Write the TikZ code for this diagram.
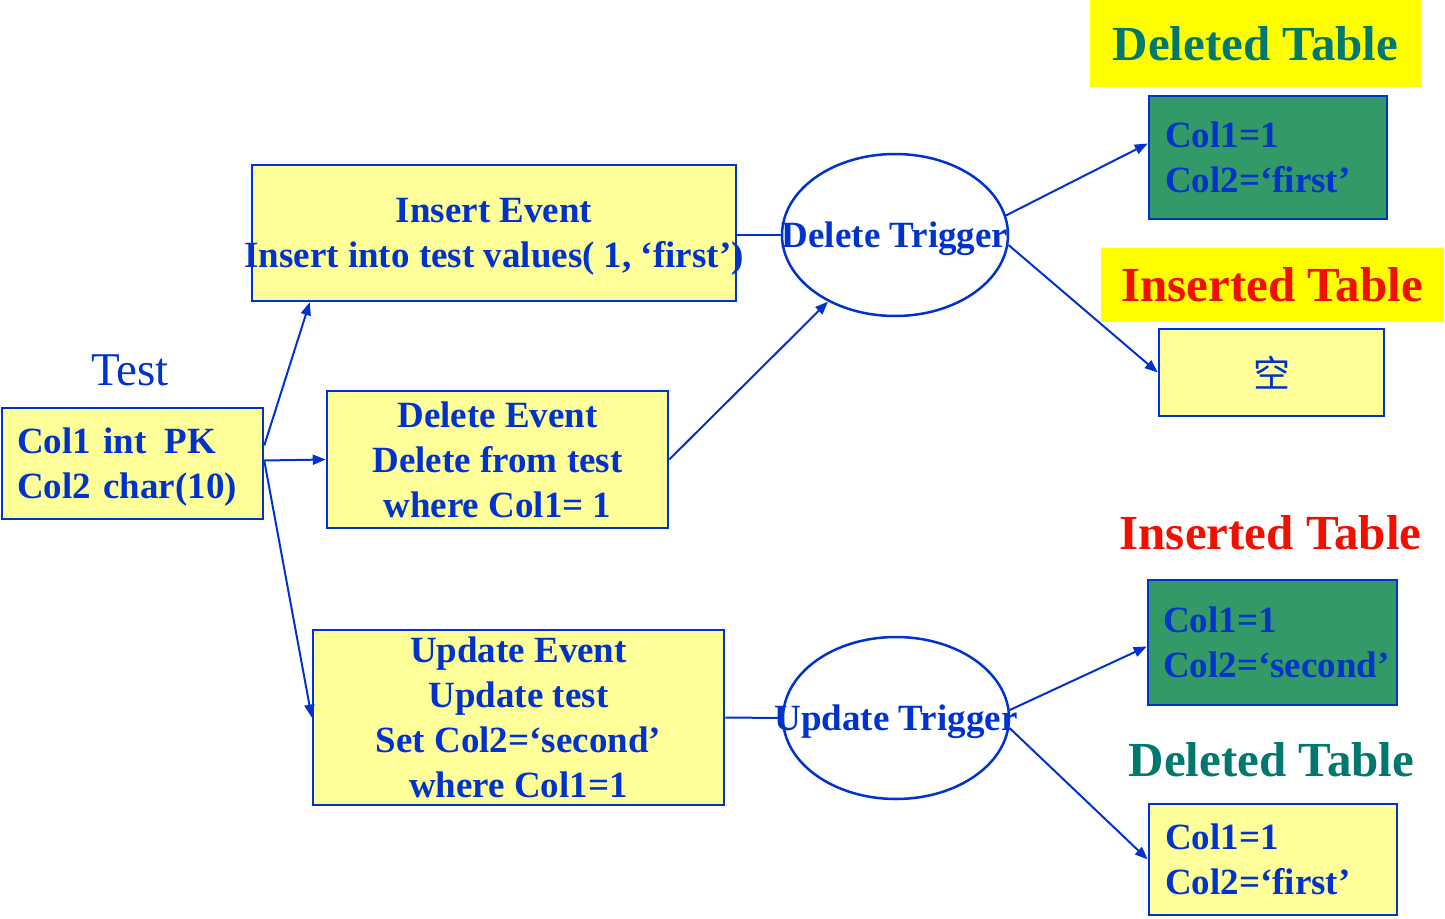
\documentclass[tikz,border=0pt]{standalone}
\usepackage{fontspec}
\setmainfont{Liberation Serif}
\newfontfamily\cjkfont{Noto Sans CJK SC}
\usetikzlibrary{arrows.meta,shapes.geometric,calc}

\definecolor{ink}{HTML}{0033CC}
\definecolor{paleyellow}{HTML}{FFFF99}
\definecolor{brightyellow}{HTML}{FFFF00}
\definecolor{tablegreen}{HTML}{339966}
\definecolor{teal}{HTML}{00786E}
\definecolor{alertred}{HTML}{F01000}

\begin{document}
\begin{tikzpicture}[x=1pt,y=-1pt,
  bodyfont/.style={font=\fontsize{37}{45}\selectfont\bfseries},
  box/.style={draw=ink, line width=2.5pt, fill=paleyellow, inner sep=0pt,
    bodyfont, text=ink, align=center},
  colbox/.style={box, align=left},
  greenbox/.style={colbox, fill=tablegreen},
  trig/.style={ellipse, draw=ink, line width=2.5pt, inner sep=0pt, text depth=0pt,
    minimum width=226pt, minimum height=162pt, bodyfont, text=ink},
  caption/.style={inner sep=0pt, font=\fontsize{49}{56}\selectfont\bfseries},
  conn/.style={draw=ink, line width=2pt},
  arr/.style={conn, -{Triangle[length=13pt,width=10pt]}}
]
\useasboundingbox (0,0) rectangle (1445,918);

% source table
\node[font=\fontsize{47}{56}\selectfont, text=ink, inner sep=0pt] (title) at (130,370) {Test};
\node[colbox, minimum width=261pt, minimum height=111pt, text width=231pt]
  (test) at (132.5,463.5) {\mbox{Col1 int\hspace{18pt}PK}\\\mbox{\smash{Col2 char(10)}}};

% events
\node[box, minimum width=484pt, minimum height=136pt] (ins) at (494,233)
  {Insert Event\\\makebox[0pt]{\smash{Insert into test values( 1, ‘first’)}}};
\node[box, minimum width=341pt, minimum height=137pt] (del) at (497.5,459.5)
  {Delete Event\\Delete from test\\where Col1= 1};
\node[box, minimum width=411pt, minimum height=175pt] (upd) at (518.5,717.5)
  {Update Event\\Update test\\Set Col2=‘second’\\where Col1=1};

% triggers
\node[trig] (delT) at (895,235) {\makebox[0pt]{Delete Trigger}};
\node[trig] (updT) at (896,718) {\makebox[0pt]{Update Trigger}};

% delete trigger tables
\node[caption, fill=brightyellow, text=teal, minimum width=331pt, minimum height=87pt]
  (capDel1) at (1255.5,43.5) {Deleted Table};
\node[greenbox, minimum width=238pt, minimum height=123pt, text width=206pt]
  (grn1) at (1268,157.5) {Col1=1\\Col2=‘first’};
\node[caption, fill=brightyellow, text=alertred, minimum width=343pt, minimum height=74pt]
  (capIns1) at (1272,285) {Inserted Table};
\node[box, minimum width=225pt, minimum height=87pt, font=\fontsize{37}{45}\selectfont\cjkfont]
  (empty) at (1271.5,372.5) {空};

% update trigger tables
\node[caption, text=alertred] (capIns2) at (1270.5,533) {Inserted Table};
\node[greenbox, minimum width=249pt, minimum height=125pt, text width=219pt]
  (grn2) at (1272.5,642.5) {Col1=1\\Col2=‘second’};
\node[caption, text=teal] (capDel2) at (1271.5,760) {Deleted Table};
\node[colbox, minimum width=248pt, minimum height=111pt, text width=216pt]
  (yel2) at (1273,859.5) {Col1=1\\Col2=‘first’};

% connectors
\draw[arr] ($(test.east)+(0,-18)$) -- ($(ins.south west)+(59,0)$);
\draw[arr] ($(test.east)+(0,-3)$) -- (del.west);
\draw[arr] ($(test.east)+(0,-3)$) -- (upd.west);
\draw[conn] (ins.east |- delT.west) -- (delT.west);
\draw[arr] (del.east) -- (delT);
\draw[conn] (upd.east) -- (updT.west);
\draw[arr] (delT.10) -- ($(grn1.west)+(0,-14)$);
\draw[arr] (delT.-5) -- (empty.west);
\draw[arr] (updT.4) -- ($(grn2.west)+(0,4)$);
\draw[arr] (updT.-5) -- (yel2.west);
\end{tikzpicture}
\end{document}
